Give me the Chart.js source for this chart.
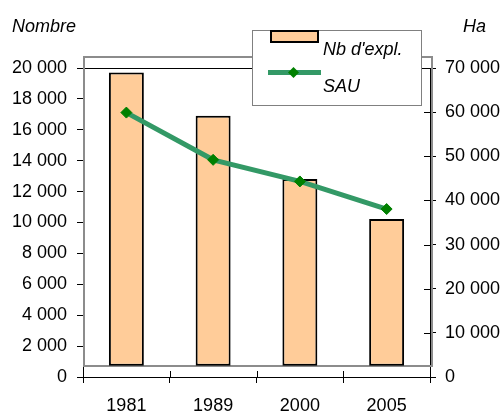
<!DOCTYPE html>
<html>
<head>
<meta charset="utf-8">
<script src="https://cdn.jsdelivr.net/npm/chart.js@4"></script>
<style>
  html, body { margin: 0; padding: 0; background: #fff; }
  #wrap { width: 504px; height: 412px; }
</style>
</head>
<body>
<div id="wrap"><canvas id="chart" width="504" height="412"></canvas></div>
<script>
const years = ["1981", "1989", "2000", "2005"];
const nbExpl = [19710, 16910, 12820, 10230];
const sau = [59900, 49200, 44300, 38050];
const countTicks = [0, 2000, 4000, 6000, 8000, 10000, 12000, 14000, 16000, 18000, 20000];
const haTicks = [0, 10000, 20000, 30000, 40000, 50000, 60000, 70000];
const barFloor = 730;

const FONT = "'Liberation Sans', Arial, sans-serif";
Chart.defaults.color = "#000";
Chart.defaults.font.family = FONT;
Chart.defaults.font.size = 18;

function fmt(v) {
  return String(v).replace(/\B(?=(\d{3})+(?!\d))/g, " ");
}

const decor = {
  id: "decor",
  beforeDatasetsDraw(chart) {
    const { ctx, chartArea: a } = chart;
    ctx.save();
    ctx.strokeStyle = "#8c8c8c";
    ctx.lineWidth = 2;
    ctx.strokeRect(a.left + 1, a.top - 11, a.right - a.left + 1, a.bottom - a.top);
    ctx.restore();
  },
  afterDraw(chart) {
    const { ctx, chartArea: a } = chart;
    const xs = chart.scales.x;
    const yr = chart.scales.y1;
    ctx.save();
    // inner halves of crossing ticks
    ctx.strokeStyle = "#000";
    ctx.lineWidth = 1;
    ctx.beginPath();
    haTicks.forEach(v => {
      const py = Math.round(yr.getPixelForValue(v)) + 0.5;
      ctx.moveTo(a.right - 6, py);
      ctx.lineTo(a.right, py);
    });
    const half = (xs.getPixelForValue(1) - xs.getPixelForValue(0)) / 2;
    for (let i = 0; i <= years.length; i++) {
      const px = Math.round(xs.getPixelForValue(i) - half) + 0.5;
      ctx.moveTo(px, a.bottom - 6);
      ctx.lineTo(px, a.bottom);
    }
    ctx.stroke();

    // axis titles
    ctx.font = "italic 18px " + FONT;
    ctx.fillStyle = "#000";
    ctx.textBaseline = "alphabetic";
    ctx.textAlign = "left";
    ctx.fillText("Nombre", 12, 32);
    ctx.fillText("Ha", 463, 32);

    // legend
    ctx.fillStyle = "#fff";
    ctx.fillRect(252, 30, 169, 75);
    ctx.strokeStyle = "#808080";
    ctx.lineWidth = 1;
    ctx.strokeRect(252.5, 30.5, 169, 75);

    ctx.fillStyle = "#FFCC99";
    ctx.fillRect(271, 31, 47, 11);
    ctx.strokeStyle = "#000";
    ctx.lineWidth = 2;
    ctx.strokeRect(271, 31, 47, 11);

    ctx.strokeStyle = "#339966";
    ctx.lineWidth = 5;
    ctx.beginPath();
    ctx.moveTo(268, 72.5);
    ctx.lineTo(321, 72.5);
    ctx.stroke();
    ctx.fillStyle = "#008000";
    ctx.beginPath();
    ctx.moveTo(293.5 - 5.5, 72.5);
    ctx.lineTo(293.5, 67);
    ctx.lineTo(293.5 + 5.5, 72.5);
    ctx.lineTo(293.5, 78);
    ctx.closePath();
    ctx.fill();

    ctx.fillStyle = "#000";
    ctx.fillText("Nb d'expl.", 323, 55);
    ctx.fillText("SAU", 323, 91.5);
    ctx.restore();
  }
};

new Chart(document.getElementById("chart"), {
  type: "bar",
  data: {
    labels: years,
    datasets: [
      {
        type: "line",
        label: "SAU",
        data: sau,
        yAxisID: "y1",
        borderColor: "#339966",
        borderWidth: 5,
        pointStyle: "rectRot",
        pointRadius: 5.5,
        pointBackgroundColor: "#008000",
        pointBorderColor: "#008000",
        pointBorderWidth: 1,
        tension: 0,
        order: 0
      },
      {
        type: "bar",
        label: "Nb d'expl.",
        data: nbExpl,
        yAxisID: "y",
        base: barFloor,
        backgroundColor: "#FFCC99",
        borderColor: "#000",
        borderWidth: 2,
        borderSkipped: false,
        barPercentage: 0.403,
        categoryPercentage: 1,
        order: 1
      }
    ]
  },
  options: {
    responsive: false,
    animation: false,
    layout: { padding: { top: 68, left: 0, right: 0, bottom: 0 } },
    plugins: {
      legend: { display: false },
      title: { display: false },
      tooltip: { enabled: false }
    },
    scales: {
      x: {
        offset: true,
        grid: {
          offset: true,
          drawOnChartArea: false,
          color: "#000",
          tickLength: 6
        },
        border: { display: true, color: "#000", width: 1 },
        ticks: { padding: 12, autoSkip: false, maxRotation: 0 },
        afterFit(s) { s.height = 35; }
      },
      y: {
        position: "left",
        min: 0,
        max: 20000,
        afterBuildTicks(s) { s.ticks = countTicks.map(v => ({ value: v })); },
        grid: {
          color: c => (c.tick && c.tick.value === 20000 ? "#000" : "rgba(0,0,0,0)"),
          tickColor: "#000",
          tickLength: 6
        },
        border: { display: true, color: "#000", width: 1 },
        ticks: { padding: 10, callback: v => fmt(v) },
        afterFit(s) { s.width = 83; }
      },
      y1: {
        position: "right",
        min: 0,
        max: 70000,
        afterBuildTicks(s) { s.ticks = haTicks.map(v => ({ value: v })); },
        grid: {
          drawOnChartArea: false,
          color: "#000",
          tickLength: 6
        },
        border: { display: true, color: "#000", width: 1 },
        ticks: { padding: 9, callback: v => fmt(v) },
        afterFit(s) { s.width = 74; }
      }
    }
  },
  plugins: [decor]
});
</script>
</body>
</html>
